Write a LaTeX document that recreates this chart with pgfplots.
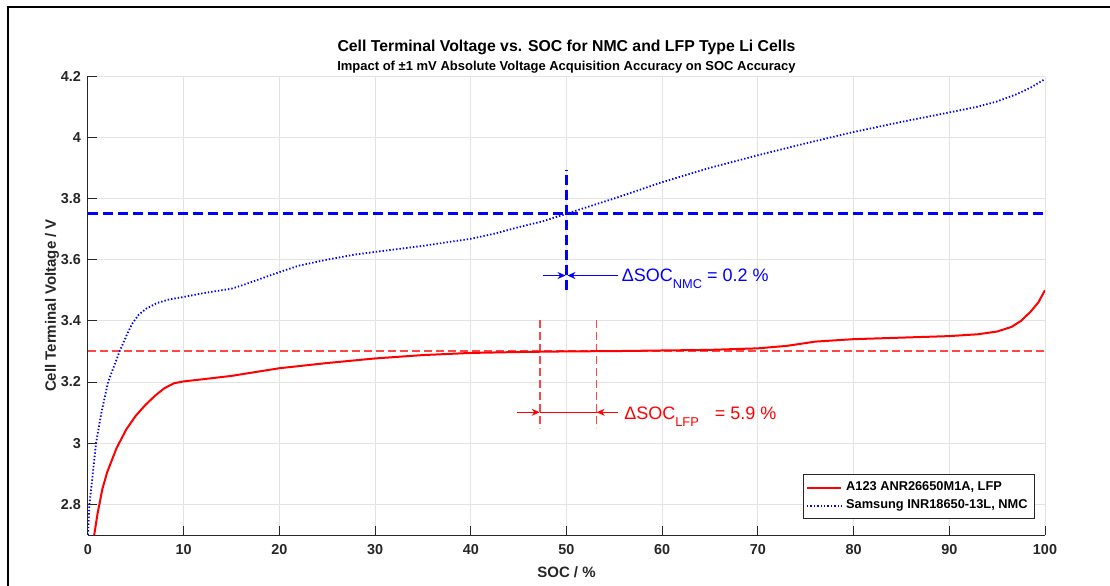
\documentclass[border=0pt]{standalone}
\usepackage{fontspec}
\setmainfont{Liberation Sans}
\usepackage{pgfplots}
\pgfplotsset{compat=1.18}
\usetikzlibrary{arrows.meta}

\definecolor{axgray}{RGB}{38,38,38}
\definecolor{lfpred}{RGB}{255,0,0}
\definecolor{lfpdash}{RGB}{255,70,70}
\definecolor{nmcblue}{RGB}{0,0,255}

\begin{document}
\begin{tikzpicture}
\useasboundingbox (-44pt,-25pt) rectangle (511pt,267.5pt);
\draw[line width=1pt] (-40pt,-30pt) -- (-40pt,264pt) -- (520pt,264pt);
\begin{axis}[
  width=478.5pt, height=229.5pt, scale only axis,
  xmin=0, xmax=100, ymin=2.7, ymax=4.2,
  xtick={0,10,20,30,40,50,60,70,80,90,100},
  ytick={2.8,3,3.2,3.4,3.6,3.8,4,4.2},
  axis x line*=bottom, axis y line*=left,
  axis line style={axgray, line width=0.5pt, -},
  tick style={axgray, line width=0.5pt},
  major tick length=4.5pt, tick align=inside,
  grid=major, major grid style={gray!22, line width=0.5pt},
  /pgf/number format/assume math mode=true,
  tick label style={font=\fontsize{7.2}{8}\fontseries{b}\selectfont, text=axgray},
  xticklabel style={yshift=-1pt},
  xticklabel={\bfseries\pgfmathprintnumber{\tick}},
  yticklabel={\bfseries\pgfmathprintnumber{\tick}},
  xlabel={SOC / \%}, ylabel={Cell Terminal Voltage / V},
  label style={font=\bfseries\fontsize{7.5}{9}\selectfont, text=axgray},
  xlabel style={at={(axis description cs:0.5,0)}, anchor=base, yshift=-21pt},
  ylabel style={at={(axis description cs:-0.0376,0.5)}, anchor=center},
  legend style={at={(axis description cs:0.9896,0.0349)}, anchor=south east,
    font=\bfseries\fontsize{6.4}{7.5}\selectfont, draw=axgray, line width=0.5pt,
    inner sep=1.5pt, row sep=-1pt, legend cell align=left},
  legend image post style={line width=1pt},
]
% reference lines for LFP (drawn first, under the curve)
\addplot[color=lfpdash, line width=1pt, dash pattern=on 4pt off 2pt, forget plot] coordinates {(0,3.3) (100,3.3)};
\addplot[color=lfpdash, line width=0.8pt, dash pattern=on 4pt off 2pt, forget plot] coordinates {(47.2,3.403) (47.2,3.05)};
\addplot[color=lfpdash, line width=0.8pt, dash pattern=on 4pt off 2pt, forget plot] coordinates {(53.15,3.403) (53.15,3.05)};
% LFP cell
\addplot[lfpred, line width=1pt, line join=round] coordinates {
(0.65,2.70) (1,2.77) (1.5,2.85) (2,2.905) (3,2.985) (4,3.045) (5,3.09) (6,3.125)
(7,3.155) (8,3.18) (9,3.196) (10,3.202) (12,3.209) (15,3.22) (18,3.235) (20,3.245)
(25,3.262) (30,3.277) (35,3.288) (40,3.295) (45,3.298) (50,3.300) (55,3.301) (60,3.303)
(65,3.305) (70,3.31) (73,3.318) (76,3.332) (80,3.34) (85,3.345) (90,3.35) (93,3.356)
(95,3.365) (96.5,3.38) (97.5,3.40) (98.5,3.43) (99.3,3.46) (100,3.50)};
\addlegendentry{A123 ANR26650M1A, LFP}
% NMC cell
\addplot[nmcblue, line width=0.9pt, dash pattern=on 0.7pt off 1pt] coordinates {
(0,2.70) (0.15,2.8) (0.5,2.9) (0.84,3.0) (1.4,3.1) (2.1,3.2) (2.7,3.25) (3.3,3.3)
(4.0,3.35) (4.6,3.39) (5.3,3.42) (6.1,3.44) (7.2,3.458) (8.5,3.47) (10,3.478) (12,3.49)
(14,3.50) (15,3.505) (16.5,3.52) (18,3.537) (20,3.559) (22,3.58) (25,3.60) (28,3.617)
(30,3.625) (35,3.645) (40,3.668) (42.5,3.685) (45,3.706) (47.5,3.725) (50,3.75)
(52.5,3.775) (55,3.80) (60,3.853) (65,3.90) (70,3.941) (75,3.98) (80,4.017) (85,4.05)
(90,4.081) (93,4.10) (95,4.117) (97,4.14) (98.5,4.162) (100,4.19)};
\addlegendentry{Samsung INR18650-13L, NMC}
% reference lines for NMC
\addplot[nmcblue, line width=1.3pt, dash pattern=on 5pt off 2.5pt, forget plot] coordinates {(0,3.75) (100,3.75)};
\addplot[nmcblue, line width=1.3pt, dash pattern=on 5pt off 2.5pt, forget plot] coordinates {(50,3.50) (50,3.893)};
% arrows
\draw[nmcblue, line width=0.5pt, -{Stealth[length=4pt,width=3.5pt]}] (axis cs:47.5,3.548) -- (axis cs:49.9,3.548);
\draw[nmcblue, line width=0.5pt, -{Stealth[length=4pt,width=3.5pt]}] (axis cs:55.4,3.548) -- (axis cs:50.1,3.548);
\draw[lfpred, line width=0.5pt, -{Stealth[length=4pt,width=3.5pt]}] (axis cs:44.8,3.101) -- (axis cs:47.2,3.101);
\draw[lfpred, line width=0.5pt] (axis cs:47.2,3.101) -- (axis cs:53.15,3.101);
\draw[lfpred, line width=0.5pt, -{Stealth[length=4pt,width=3.5pt]}] (axis cs:55.4,3.101) -- (axis cs:53.15,3.101);
\node[anchor=base west, text=nmcblue, inner sep=0pt, font=\fontsize{9}{10}\selectfont] at (axis cs:55.75,3.528)
  {ΔSOC\raisebox{-3.5pt}{\fontsize{6.4}{7}\selectfont NMC} = 0.2 \%};
\node[anchor=base west, text=lfpred, inner sep=0pt, font=\fontsize{9}{10}\selectfont] at (axis cs:56.0,3.079)
  {ΔSOC\raisebox{-3.5pt}{\fontsize{6.4}{7}\selectfont LFP}\hspace{8pt}= 5.9 \%};
\end{axis}
\node[anchor=base, font=\bfseries\fontsize{7.9}{9}\selectfont] at (239.25pt,242pt)
  {Cell Terminal Voltage vs. SOC for NMC and LFP Type Li Cells};
\node[anchor=base, font=\bfseries\fontsize{6.5}{7}\selectfont] at (239.25pt,232.5pt)
  {Impact of ±1 mV Absolute Voltage Acquisition Accuracy on SOC Accuracy};
\end{tikzpicture}
\end{document}
